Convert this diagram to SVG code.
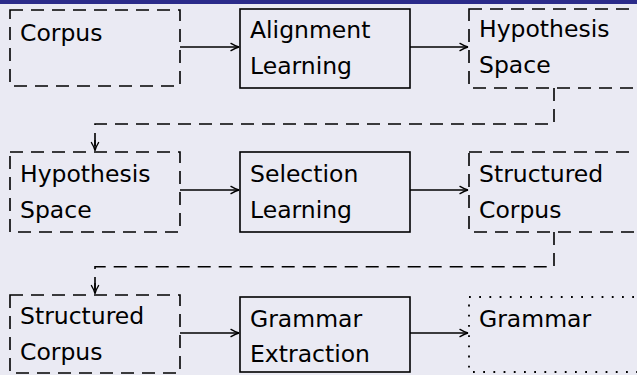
<svg xmlns="http://www.w3.org/2000/svg" width="637" height="375" viewBox="0 0 637 375">
<style>
  .bg{fill:#EAEAF3}
  .bar{fill:#2B2B8A}
  .dash{fill:none;stroke:#000;stroke-width:1.6;stroke-dasharray:13 8}
  .solid{fill:none;stroke:#000;stroke-width:1.6}
  .dot{fill:none;stroke:#000;stroke-width:1.8;stroke-dasharray:1.8 8.4}
  .arr{fill:none;stroke:#000;stroke-width:1.5}
  .conn{fill:none;stroke:#000;stroke-width:1.6;stroke-dasharray:13 8}
  text{font-family:"DejaVu Sans",sans-serif;font-size:23.5px;fill:#000}
</style>
<defs>
  <marker id="ah" markerUnits="userSpaceOnUse" markerWidth="12" markerHeight="10" viewBox="-9 -5 10 10" refX="0" refY="0" orient="auto" overflow="visible">
    <path d="M-8,-3.6 Q-3,-0.6 0,0 Q-3,0.6 -8,3.6" fill="none" stroke="#000" stroke-width="1.4" stroke-linecap="round"/>
  </marker>
</defs>
<rect class="bg" x="0" y="0" width="637" height="375"/>
<rect class="bar" x="0" y="0" width="637" height="4"/>

<g id="connectors">
  <line class="arr" x1="180" y1="47" x2="239" y2="47" marker-end="url(#ah)"/>
  <line class="arr" x1="410" y1="47" x2="468" y2="47" marker-end="url(#ah)"/>
  <line class="arr" x1="180" y1="190" x2="239" y2="190" marker-end="url(#ah)"/>
  <line class="arr" x1="410" y1="190" x2="468" y2="190" marker-end="url(#ah)"/>
  <line class="arr" x1="180" y1="333" x2="239" y2="333" marker-end="url(#ah)"/>
  <line class="arr" x1="410" y1="333" x2="468" y2="333" marker-end="url(#ah)"/>
  <path class="conn" d="M554,88 V124 H95 V150.5"/>
  <path d="M95,140 V150.5" class="arr" marker-end="url(#ah)"/>
  <path class="conn" d="M554,232 V266.7 H95 V293.5"/>
  <path d="M95,283 V293.5" class="arr" marker-end="url(#ah)"/>
</g>

<g id="corpus">
  <rect class="dash" x="10" y="10" width="170" height="76"/>
  <text x="20" y="40.5">Corpus</text>
</g>
<g id="alignment-learning">
  <rect class="solid" x="240" y="9" width="170" height="79"/>
  <text x="250" y="37.5">Alignment</text>
  <text x="250" y="73.5">Learning</text>
</g>
<g id="hypothesis-space-1">
  <rect class="dash" x="469" y="9" width="200" height="79"/>
  <text x="479" y="36.7">Hypothesis</text>
  <text x="479" y="72.7">Space</text>
</g>

<g id="hypothesis-space-2">
  <rect class="dash" x="10" y="152" width="170" height="80"/>
  <text x="20" y="181.7">Hypothesis</text>
  <text x="20" y="217.7">Space</text>
</g>
<g id="selection-learning">
  <rect class="solid" x="240" y="152" width="170" height="80"/>
  <text x="250" y="181.7">Selection</text>
  <text x="250" y="217.7">Learning</text>
</g>
<g id="structured-corpus-1">
  <rect class="dash" x="469" y="152" width="200" height="80"/>
  <text x="479" y="181.7">Structured</text>
  <text x="479" y="217.7">Corpus</text>
</g>

<g id="structured-corpus-2">
  <rect class="dash" x="10" y="295" width="170" height="78"/>
  <text x="20" y="324">Structured</text>
  <text x="20" y="360">Corpus</text>
</g>
<g id="grammar-extraction">
  <rect class="solid" x="240" y="297" width="170" height="75"/>
  <text x="250" y="326.5">Grammar</text>
  <text x="250" y="362">Extraction</text>
</g>
<g id="grammar">
  <rect class="dot" x="469" y="297" width="200" height="75"/>
  <text x="479" y="326.5">Grammar</text>
</g>
</svg>
